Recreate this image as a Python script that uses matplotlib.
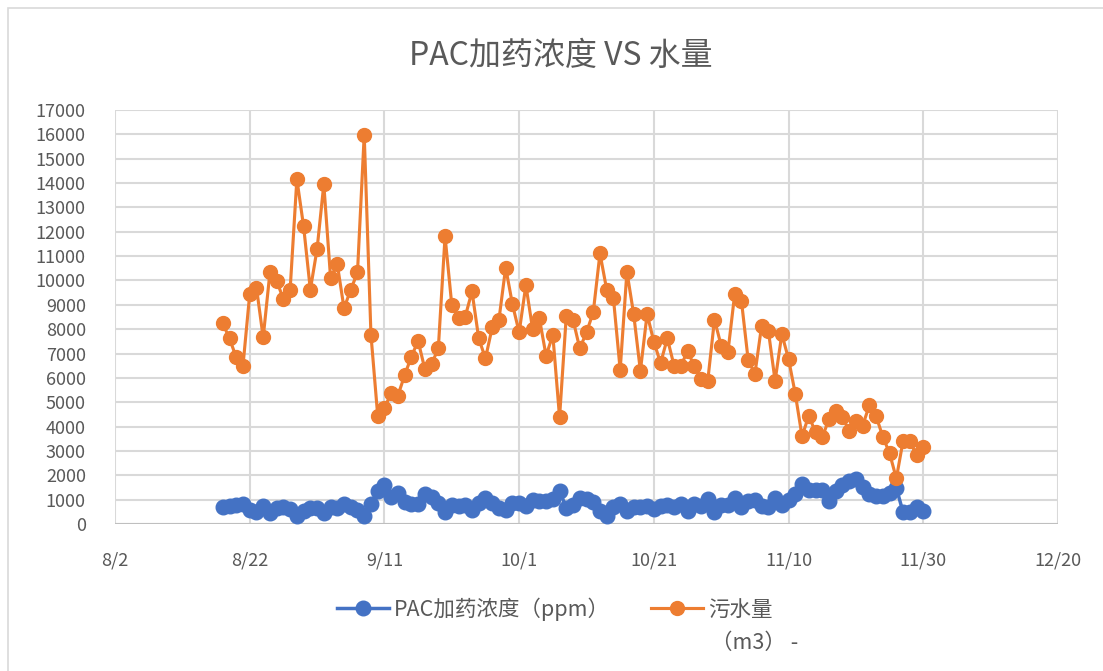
import matplotlib
matplotlib.use("Agg")
import matplotlib.pyplot as plt
from matplotlib.patches import Rectangle
import pandas as pd

plt.rcParams['font.family'] = ['Noto Sans CJK SC', 'DejaVu Sans']

# daily records, 8/18 - 11/30
dates = pd.date_range("2021-08-18", "2021-11-30", freq="D")

# PAC dosing concentration (ppm), by month
pac_aug = [680, 730, 770, 820, 580, 500, 730, 450, 640, 700, 600, 320, 545, 665]
pac_sep = [650, 440, 710, 640, 830, 690, 580, 320, 830, 1360, 1590, 1100, 1290, 920, 815,
           815, 1240, 1090, 865, 480, 780, 755, 780, 580, 870, 1060, 850, 660, 570, 850]
pac_oct = [850, 750, 990, 955, 955, 1020, 1375, 645, 760, 1060, 1015, 920, 540, 340, 705, 810,
           540, 680, 680, 745, 610, 745, 785, 680, 810, 540, 810, 745, 1015, 475, 785]
pac_nov = [785, 1085, 700, 950, 1000, 750, 700, 1085, 800, 1000, 1240, 1645, 1400, 1400, 1400,
           940, 1375, 1600, 1785, 1840, 1510, 1240, 1155, 1155, 1275, 1480, 480, 510, 690, 545]

# wastewater volume (m3), by month
water_aug = [8235, 7620, 6840, 6500, 9440, 9710, 7660, 10330, 9990, 9230, 9620, 14160, 12220, 9620]
water_sep = [11290, 13950, 10120, 10670, 8860, 9620, 10330, 15980, 7770, 4450, 4750, 5380, 5270,
             6110, 6870, 7520, 6360, 6570, 7210, 11810, 8990, 8440, 8520, 9550, 7620, 6800, 8070,
             8390, 10530, 9030]
water_oct = [7870, 9810, 8000, 8450, 6910, 7760, 4380, 8550, 8390, 7210, 7870, 8690, 11110, 9620,
             9260, 6330, 10360, 8620, 6290, 8620, 7480, 6610, 7620, 6500, 6500, 7090, 6500, 5950,
             5880, 8390, 7320]
water_nov = [7070, 9440, 9170, 6740, 6160, 8140, 7930, 5880, 7800, 6770, 5340, 3600, 4450, 3760,
             3560, 4310, 4650, 4380, 3830, 4240, 4040, 4880, 4420, 3580, 2900, 1870, 3420, 3390,
             2830, 3150]

pac = pac_aug + pac_sep + pac_oct + pac_nov
water = water_aug + water_sep + water_oct + water_nov

# x axis runs 8/2 - 12/20 with a tick every 20 days
x_ticks = pd.date_range("2021-08-02", periods=8, freq="20D")
x_labels = ["8/2", "8/22", "9/11", "10/1", "10/21", "11/10", "11/30", "12/20"]
y_ticks = list(range(0, 17001, 1000))

blue = "#4472C4"
orange = "#ED7D31"
text_gray = "#595959"
grid_gray = "#d9d9d9"

fig = plt.figure(figsize=(11.03, 6.71), dpi=100)
ax = fig.add_axes([115 / 1103, 147 / 671, 943 / 1103, 414 / 671])

l1, = ax.plot(dates, pac, color=blue, lw=2.5, marker="o", ms=10.5, label="PAC加药浓度（ppm）")
l2, = ax.plot(dates, water, color=orange, lw=2.25, marker="o", ms=10, label="污水量")

ax.set_xlim(x_ticks[0], x_ticks[-1])
ax.set_ylim(0, 17000)
ax.set_xticks(x_ticks)
ax.set_xticklabels(x_labels)
ax.set_yticks(y_ticks)
ax.tick_params(axis="both", length=0, labelsize=13, labelcolor=text_gray)
ax.tick_params(axis="y", pad=21)
ax.tick_params(axis="x", pad=20)
ax.grid(True, color=grid_gray, lw=1.5)
ax.set_axisbelow(True)
for s in ax.spines.values():
    s.set_visible(False)
ax.axhline(0, color="#bfbfbf", lw=1.5, zorder=1.5)

fig.text(561 / 1103, 1 - 56 / 671, "PAC加药浓度 VS 水量", ha="center", va="center",
         fontsize=23, color=text_gray)

ax.legend(handles=[l1, l2], loc="center", bbox_to_anchor=(555 / 1103, 1 - 609 / 671),
          bbox_transform=fig.transFigure, ncol=2, frameon=False, fontsize=15.5,
          handlelength=2.4, handletextpad=0.25, columnspacing=1.9, labelcolor=text_gray)
# unit wraps onto a second line under the water label
fig.text(711 / 1103, 1 - 643 / 671, "（m3） -", ha="left", va="center",
         fontsize=15.5, color=text_gray)

# chart border
fig.patches.append(Rectangle((8 / 1103, -0.1), 1.2, 1.1 - 8 / 671, transform=fig.transFigure,
                             fill=False, ec=grid_gray, lw=1.2))

fig.savefig("out.png", dpi=100)
